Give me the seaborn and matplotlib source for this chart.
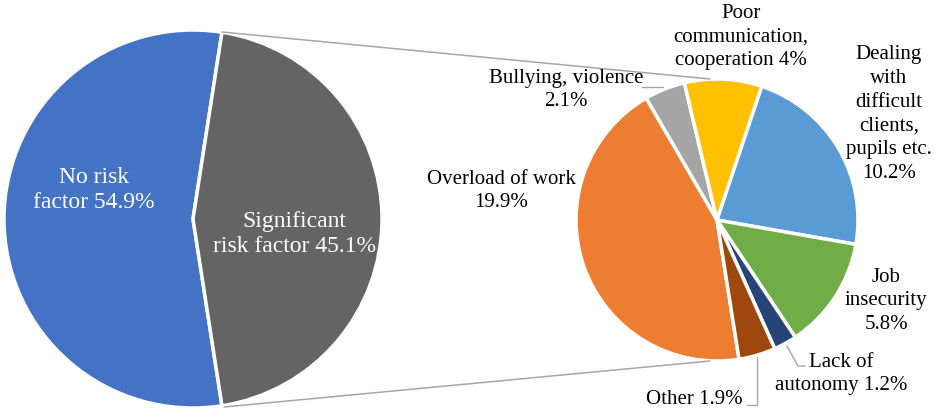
import matplotlib
matplotlib.use("Agg")
import matplotlib.pyplot as plt
import seaborn as sns

# Main pie
main_names = ["No risk\nfactor", "Significant\nrisk factor"]
main_values = [54.9, 45.1]

# Breakdown of the significant risk factor share
sub_names = ["Overload of work\n{}", "Bullying, violence\n{}", "Poor\ncommunication,\ncooperation {}",
             "Dealing\nwith\ndifficult\nclients,\npupils etc.\n{}", "Job\ninsecurity\n{}",
             "Lack of\nautonomy {}", "Other {}"]
sub_values = [19.9, 2.1, 4, 10.2, 5.8, 1.2, 1.9]

main_colors = ["#4472C4", "#646464"]
sub_colors = sns.color_palette(["#ED7D31", "#A5A5A5", "#FFC000", "#5B9BD5", "#70AD47", "#264478", "#9E480E"])

sns.set_theme(style="white")
plt.rcParams["font.family"] = ["Liberation Serif", "DejaVu Serif"]

W, H = 936, 414
fig = plt.figure(figsize=(W / 100, H / 100), dpi=100)
ax = fig.add_axes([0, 0, 1, 1])


def py(y):
    # pixel row -> data y
    return H - y


# left pie, grey slice centred on the right side
lc, lr = (193, py(220)), 189
half = main_values[1] * 3.6 / 2
ax.pie(main_values, colors=main_colors, center=lc, radius=lr, startangle=half,
       wedgeprops=dict(edgecolor="white", linewidth=2.5), frame=True)

# right pie, clockwise
rc, rr = (717, py(221)), 141
ax.pie(sub_values, colors=sub_colors, center=rc, radius=rr, startangle=279, counterclock=False,
       wedgeprops=dict(edgecolor="white", linewidth=2.5), frame=True)

# connector lines
line_c = "#A6A6A6"
ax.plot([222, 710], [py(33), py(80)], color=line_c, lw=1.1)
ax.plot([224, 710], [py(408), py(362)], color=line_c, lw=1.1)

# main labels
main_pos = [(94, 190), (294, 234)]
for name, v, (x, y) in zip(main_names, main_values, main_pos):
    ax.text(x, py(y), f"{name} {v:g}%", color="white", fontsize=17,
            ha="center", va="center", multialignment="center", linespacing=1.3)

# breakdown labels
sub_pos = [(501, 191), (566, 90), (741, 37), (889, 114), (886, 301), (841, 374), (694, 400)]
for name, v, (x, y) in zip(sub_names, sub_values, sub_pos):
    ax.text(x, py(y), name.format(f"{v:g}%"), color="black", fontsize=15,
            ha="center", va="center", multialignment="center", linespacing=1.33)

# leader lines
ax.plot([642, 663], [py(88), py(88)], color=line_c, lw=1)
ax.plot([787, 798, 805], [py(347), py(367), py(367)], color=line_c, lw=1)
ax.plot([757, 757, 747], [py(358), py(406), py(406)], color=line_c, lw=1)

ax.set_xlim(0, W)
ax.set_ylim(0, H)
ax.set_aspect("equal")
ax.set_axis_off()

fig.savefig("out.png", dpi=100, facecolor="white")
